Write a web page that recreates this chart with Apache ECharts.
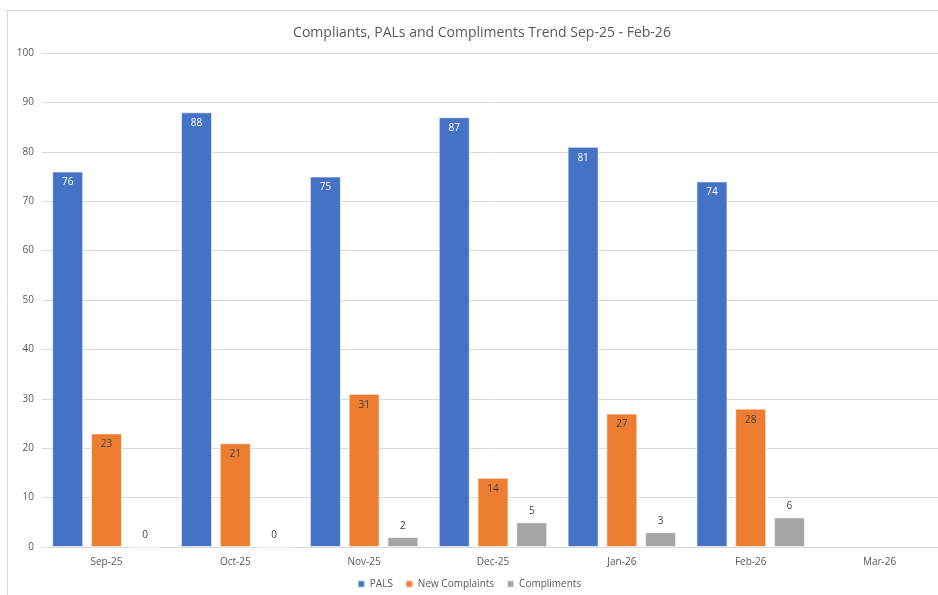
<!DOCTYPE html>
<html>
<head>
<meta charset="utf-8">
<script src="https://cdn.jsdelivr.net/npm/echarts@6/dist/echarts.min.js"></script>
<style>
  html, body { margin: 0; padding: 0; background: #ffffff; }
  #chart { width: 938px; height: 595px; }
</style>
</head>
<body>
<div id="chart"></div>
<script>
// Monthly counts
const months = ['Sep-25', 'Oct-25', 'Nov-25', 'Dec-25', 'Jan-26', 'Feb-26', 'Mar-26'];
const pals = [76, 88, 75, 87, 81, 74, null];
const newComplaints = [23, 21, 31, 14, 27, 28, null];
const compliments = [0, 0, 2, 5, 3, 6, null];
const yTicks = [0, 10, 20, 30, 40, 50, 60, 70, 80, 90, 100];

const font = 'Open Sans, Liberation Sans, sans-serif';
const chart = echarts.init(document.getElementById('chart'));

function series(name, data, color, labelPos, labelColor) {
  return {
    name: name,
    type: 'bar',
    data: data,
    barWidth: 31,
    barGap: '25%',
    itemStyle: { color: color, borderColor: 'rgba(255,255,255,0.6)', borderWidth: 1 },
    label: {
      show: true,
      position: labelPos,
      distance: 6,
      color: labelColor,
      fontSize: 10,
      fontFamily: font
    },
    emphasis: { disabled: true }
  };
}

chart.setOption({
  animation: false,
  backgroundColor: '#ffffff',
  title: {
    text: 'Compliants, PALs and Compliments Trend Sep-25 - Feb-26',
    left: 477,
    textAlign: 'center',
    top: 21,
    textStyle: { color: '#595959', fontSize: 14, fontWeight: 'normal', fontFamily: font }
  },
  graphic: [
    { type: 'line', shape: { x1: 5, y1: 10.5, x2: 938, y2: 10.5 }, style: { stroke: '#d9d9d9', lineWidth: 1 }, silent: true },
    { type: 'line', shape: { x1: 7.5, y1: 10, x2: 7.5, y2: 595 }, style: { stroke: '#d9d9d9', lineWidth: 1 }, silent: true }
  ],
  legend: {
    bottom: 1,
    left: 'center',
    itemWidth: 7,
    itemHeight: 7,
    itemGap: 12,
    icon: 'rect',
    textStyle: { color: '#595959', fontSize: 10, fontFamily: font },
    data: ['PALS', 'New Complaints', 'Compliments']
  },
  grid: { left: 42, width: 902, top: 53, height: 494, outerBoundsMode: 'none', containLabel: false },
  xAxis: {
    type: 'category',
    data: months,
    axisTick: { show: false },
    axisLine: { lineStyle: { color: '#d9d9d9' } },
    axisLabel: { color: '#595959', fontSize: 10, fontFamily: font, margin: 10 }
  },
  yAxis: {
    type: 'value',
    min: yTicks[0],
    max: yTicks[yTicks.length - 1],
    interval: 10,
    axisLine: { show: false },
    axisTick: { show: false },
    splitLine: { lineStyle: { color: '#d9d9d9' } },
    axisLabel: { color: '#595959', fontSize: 10, fontFamily: font, margin: 8 }
  },
  series: [
    series('PALS', pals, '#4472C4', 'insideTop', '#ffffff'),
    series('New Complaints', newComplaints, '#ED7D31', 'insideTop', '#404040'),
    series('Compliments', compliments, '#A5A5A5', 'top', '#404040')
  ]
});
</script>
</body>
</html>
